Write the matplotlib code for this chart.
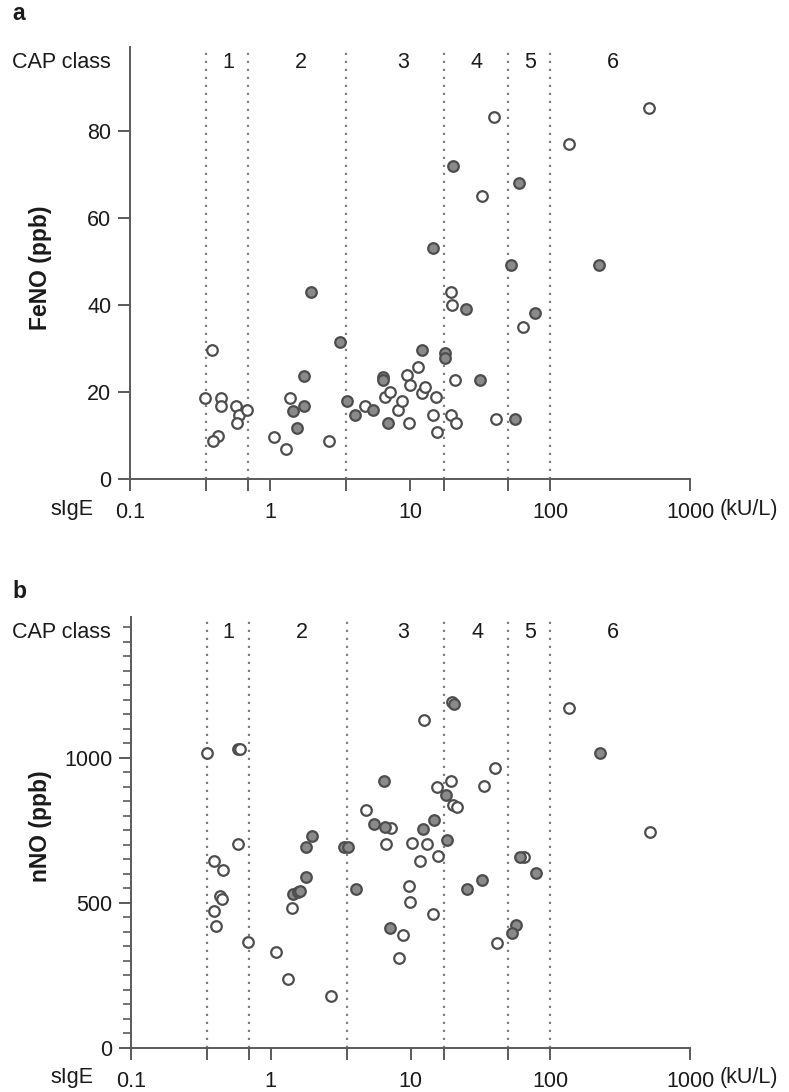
import matplotlib
matplotlib.use("Agg")
import matplotlib.pyplot as plt
from matplotlib.ticker import FixedLocator, MultipleLocator

plt.rcParams['font.family'] = ['Liberation Sans', 'DejaVu Sans']

W, H = 789, 1092

# ---------------- data ----------------
cap_bounds = [0.35, 0.7, 3.5, 17.5, 50, 100]
cap_labels = ['1', '2', '3', '4', '5', '6']
cap_label_x = [0.5, 1.66, 8.9, 30, 72, 282]

xticks = [0.1, 0.35, 0.7, 1, 3.5, 10, 17.5, 50, 100, 1000]
xticklabels = ['0.1', '', '', '1', '', '10', '', '', '100', '1000']

# Panel a: FeNO
a_open_x = [0.383, 0.343, 0.444, 0.444, 0.571, 0.604, 0.682, 0.578, 0.427, 0.390,
            1.07, 1.30, 1.39, 2.65, 4.77, 6.63, 7.2, 8.26, 8.73, 9.46,
            9.84, 10.0, 11.5, 12.1, 12.8, 14.5, 15.3, 15.5, 19.5, 20.9,
            21.3, 19.5, 19.8, 40.9, 64.4, 32.8, 39.8, 136, 507]
a_open_y = [29.7, 18.7, 18.7, 16.8, 16.8, 14.7, 15.9, 12.8, 9.9, 8.8,
            9.7, 6.9, 18.7, 8.8, 16.8, 18.8, 20.1, 15.9, 18.0, 23.9,
            12.8, 21.6, 25.7, 19.7, 21.1, 14.7, 18.8, 10.9, 14.7, 22.8,
            12.8, 42.9, 40.0, 13.8, 35.0, 65.1, 83.3, 76.9, 85.2]
a_fill_x = [1.45, 1.57, 1.76, 1.76, 1.95, 3.16, 3.53, 4.05, 5.42, 6.44,
            6.44, 7.0, 12.2, 17.8, 17.8, 14.7, 20.2, 25.1, 31.6, 52.6,
            56.2, 60.1, 78.1, 225]
a_fill_y = [15.7, 11.8, 16.8, 23.7, 42.9, 31.6, 17.9, 14.7, 15.9, 23.5,
            22.8, 12.8, 29.7, 28.9, 27.7, 53.0, 72.0, 39.0, 22.8, 49.2,
            13.8, 68.0, 38.1, 49.2]

# Panel b: nNO
b_open_x = [0.351, 0.583, 0.606, 0.583, 0.392, 0.452, 0.43, 0.45, 0.39, 0.409,
            0.682, 1.09, 1.33, 2.68, 1.43, 4.83, 7.27, 6.7, 10.2, 13.2,
            15.7, 11.6, 9.73, 9.96, 14.6, 8.81, 8.34, 64.4, 41.3, 515,
            19.9, 12.4, 137, 15.4, 19.5, 20.0, 21.5, 40.3, 33.4]
b_open_y = [1016, 1030, 1030, 703, 646, 614, 524, 513, 473, 422,
            364, 330, 237, 180, 484, 821, 757, 704, 706, 702,
            662, 645, 559, 504, 462, 390, 309, 660, 361, 746,
            1194, 1131, 1173, 901, 921, 838, 832, 964, 903]
b_fill_x = [1.44, 1.56, 1.63, 1.78, 1.78, 1.97, 3.32, 3.56, 4.09, 5.47,
            6.59, 7.16, 6.44, 12.2, 14.8, 18.3, 18.0, 25.2, 32.5, 79,
            60.8, 56.9, 53.2, 20.6, 228]
b_fill_y = [531, 537, 542, 591, 694, 732, 694, 694, 547, 771,
            763, 415, 921, 754, 786, 717, 872, 548, 579, 605,
            660, 424, 395, 1186, 1016]

# ---------------- style ----------------
TXT = '#1a1a1a'
SPINE = '#5a5a5a'
EDGE = '#4d4d4d'
FILL = '#8a8a8a'
FS = 15.5

fig = plt.figure(figsize=(W / 100, H / 100), dpi=100)


def fx(px):
    return px / W


def fy(py):
    return 1 - py / H


def make_panel(rect_px, ylim, ymajor, yminor, ylabel, ylabel_y, letter, letter_y,
               cap_y, sige_y, ox, oy, fxv, fyv):
    left, top, right, bottom = rect_px
    ax = fig.add_axes([fx(left), fy(bottom), fx(right) - fx(left), (bottom - top) / H])
    ax.set_xscale('log')
    ax.set_xlim(0.1, 1000)
    ax.set_ylim(*ylim)
    for s in ['top', 'right']:
        ax.spines[s].set_visible(False)
    for s in ['left', 'bottom']:
        ax.spines[s].set_color(SPINE)
        ax.spines[s].set_linewidth(1.4)
    ax.xaxis.set_major_locator(FixedLocator(xticks))
    ax.xaxis.set_minor_locator(FixedLocator([]))
    ax.set_xticklabels(xticklabels)
    ax.yaxis.set_major_locator(FixedLocator(ymajor))
    if yminor:
        ax.yaxis.set_minor_locator(MultipleLocator(yminor))
        ax.tick_params(axis='y', which='minor', length=5.5, width=1.2, color=SPINE)
    ax.tick_params(axis='both', which='major', length=8.5, width=1.4, color=SPINE,
                   labelsize=FS, labelcolor=TXT)
    ax.tick_params(axis='x', which='major', pad=8)
    ax.tick_params(axis='y', which='major', pad=5)

    for b in cap_bounds:
        ax.axvline(b, color='#808080', lw=1.6, linestyle=(0, (1, 2.6)), zorder=1)
    for xv, lab in zip(cap_label_x, cap_labels):
        ax.text(xv, 0.965, lab, transform=ax.get_xaxis_transform(), ha='center',
                va='center', fontsize=FS, color=TXT)

    ax.scatter(ox, oy, s=58, facecolor='white', edgecolor=EDGE, linewidth=1.6, zorder=3)
    ax.scatter(fxv, fyv, s=58, facecolor=FILL, edgecolor=EDGE, linewidth=1.6, zorder=4)

    fig.text(fx(12), fy(cap_y), 'CAP class', ha='left', va='center', fontsize=FS, color=TXT)
    fig.text(fx(93), fy(sige_y), 'sIgE', ha='right', va='center', fontsize=FS, color=TXT)
    fig.text(fx(720), fy(sige_y), '(kU/L)', ha='left', va='center', fontsize=FS, color=TXT)
    fig.text(fx(40), fy(ylabel_y), ylabel, ha='center', va='center', rotation=90,
             fontsize=16.5, fontweight='bold', color=TXT)
    fig.text(fx(12), fy(letter_y), letter, ha='left', va='center', fontsize=16.5,
             fontweight='bold', color=TXT)
    return ax


make_panel((130, 47, 690, 479), (0, 99.3), [0, 20, 40, 60, 80], None, 'FeNO (ppb)', 268,
           'a', 14, 62, 510, a_open_x, a_open_y, a_fill_x, a_fill_y)
make_panel((131, 617, 690, 1048), (0, 1486), [0, 500, 1000], 50, 'nNO (ppb)', 826,
           'b', 592, 632, 1078, b_open_x, b_open_y, b_fill_x, b_fill_y)

fig.savefig('out.png', dpi=100)
